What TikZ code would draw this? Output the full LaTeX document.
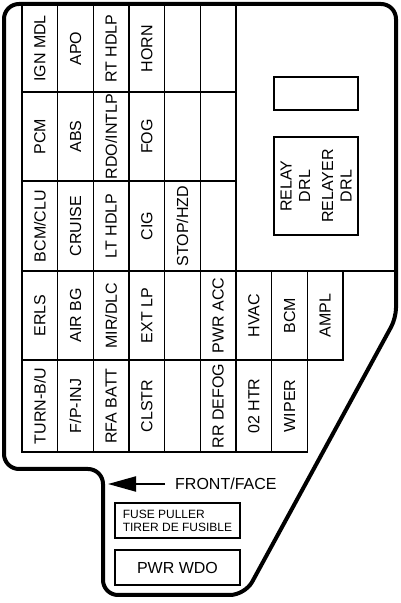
\documentclass[tikz,border=0pt]{standalone}
\usepackage{fontspec}
\setmainfont{Liberation Sans}
\usetikzlibrary{arrows.meta}

\begin{document}
\begin{tikzpicture}[x=1pt, y=1pt,
    fuse/.style={rectangle, draw, line width=1.6pt, rotate=90, inner sep=0pt, minimum width=89pt, minimum height=35.67pt, font=\fontsize{16}{18}\selectfont},
    box/.style={rectangle, draw, line width=1.5pt, inner sep=0pt},
    arrow/.style={-{Triangle[length=28pt, width=15pt]}, line width=2pt}
]
    \fill[white] (0,0) rectangle (400,603);
    \useasboundingbox (0,0) rectangle (400,603);

    % Fuse rows, top to bottom
    \foreach \lbl [count=\i] in {IGN MDL, APO, RT HDLP, HORN, {}, {}}
        \node[fuse, minimum width=87pt] (ra\i) at ({22+35.67*(\i-0.5)}, 554.5) {\lbl};
    \foreach \lbl [count=\i] in {PCM, ABS, RDO/INTLP, FOG, {}, {}}
        \node[fuse] (rb\i) at ({22+35.67*(\i-0.5)}, 466.5) {\lbl};
    \foreach \lbl [count=\i] in {BCM/CLU, CRUISE, LT HDLP, CIG, STOP/HZD, {}}
        \node[fuse, minimum width=90pt] (rc\i) at ({22+35.67*(\i-0.5)}, 377) {\lbl};
    \foreach \lbl [count=\i] in {ERLS, AIR BG, MIR/DLC, EXT LP, {}, PWR ACC, HVAC, BCM, AMPL}
        \node[fuse] (rd\i) at ({22+35.67*(\i-0.5)}, 287.5) {\lbl};
    \foreach \lbl [count=\i] in {TURN-B/U, F/P-INJ, RFA BATT, CLSTR, {}, RR DEFOG, 02 HTR, WIPER}
        \node[fuse, minimum width=92pt] (re\i) at ({22+35.67*(\i-0.5)}, 197) {\lbl};
    \draw[line width=1.6pt] (236,332) -- (396,332);

    % Relays
    \node[box, minimum width=84pt, minimum height=33pt] (spare) at (316,509.5) {};
    \node[box, rotate=90, minimum width=98pt, minimum height=84pt, align=center, font=\fontsize{16}{18.5}\selectfont] (relay) at (316,417) {RELAY\\DRL\\[4.5pt]RELAYER\\DRL};

    % Front marker and lower boxes
    \coordinate (tip) at (108,119);
    \node[anchor=west, inner sep=0pt, font=\fontsize{16}{18}\selectfont] (front) at (175,119) {FRONT/FACE};
    \draw[arrow, shorten <=10pt] (front.west) -- (tip);
    \node[box, minimum width=125pt, minimum height=35pt, align=left, font=\fontsize{12}{13}\selectfont] (puller) at (177.5,82.5) {FUSE PULLER\\TIRER DE FUSIBLE};
    \node[box, minimum width=125pt, minimum height=35pt, font=\fontsize{16}{18}\selectfont] (pwrwdo) at (177.5,35.5) {PWR WDO};

    % Outline
    \draw[line width=4pt, rounded corners=15pt] (200,599) -- (396,599) [rounded corners=10pt] -- (396,285) [rounded corners=15pt] -- (245,8) -- (103,8) -- (103,134) -- (4,134) -- (4,599) -- cycle;
\end{tikzpicture}
\end{document}
